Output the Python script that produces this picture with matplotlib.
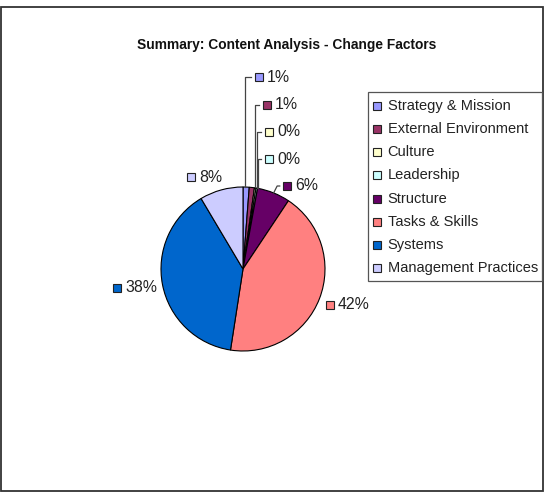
import matplotlib
matplotlib.use("Agg")
import matplotlib.pyplot as plt
from matplotlib.patches import Rectangle
import numpy as np

plt.rcParams['font.family'] = ['Liberation Sans', 'DejaVu Sans']

categories = ["Strategy & Mission", "External Environment", "Culture", "Leadership",
              "Structure", "Tasks & Skills", "Systems", "Management Practices"]
values = [1.2, 1.0, 0.3, 0.3, 6.4, 42.4, 38.4, 8.4]
pct_labels = ["1%", "1%", "0%", "0%", "6%", "42%", "38%", "8%"]
colors = ["#9999FF", "#993366", "#FFFFCC", "#CCFFFF", "#660066", "#FF8080", "#0066CC", "#CCCCFF"]
title = "Summary: Content Analysis - Change Factors"

W, H = 547, 494
fig = plt.figure(figsize=(W / 100, H / 100), dpi=100)
ax = fig.add_axes([0, 0, 1, 1])

def Y(y):  # pixel-from-top to data y
    return H - y

cx, cy, r = 243, Y(269), 82
wedges, _ = ax.pie(values, colors=colors, startangle=90, counterclock=False,
                   center=(cx, cy), radius=r, frame=True,
                   wedgeprops=dict(edgecolor='black', linewidth=0.8))
ax.set_xlim(0, W)
ax.set_ylim(0, H)
ax.set_aspect('equal')
ax.axis('off')

# outer border
ax.add_patch(Rectangle((0.8, Y(490.5)), 542.2, 483.5, fill=False, edgecolor="#333333", lw=1.3))

ax.text(287, Y(45), title, ha='center', va='center', fontsize=9.9, fontweight='bold', color='#111111')

# label positions (marker center) in pixel-from-top coords
label_pos = [(258.5, 77.5), (266.5, 105), (269, 132), (269, 159), (286.7, 186),
             (329.5, 304.5), (116.7, 288), (190.5, 177)]
leader_x = [245.3, 254.5, 257.2, 257.8, None, None, None, None]

for i, w in enumerate(wedges):
    th1, th2 = w.theta1, w.theta2
    mid = np.deg2rad((th1 + th2) / 2)
    ex, ey = cx + r * np.cos(mid), cy + r * np.sin(mid)
    mx, my = label_pos[i]
    if leader_x[i] is not None:
        lx = leader_x[i]
        ax.plot([lx, lx, mx - 8], [ey, Y(my), Y(my)], color='#444444', lw=0.9)
    elif i == 4:
        ax.plot([ex, ex + 3.5, mx - 7], [ey, Y(my), Y(my)], color='#444444', lw=0.9)
    ax.plot(mx, Y(my), marker='s', markersize=5.8, markerfacecolor=colors[i],
            markeredgecolor='#222222', markeredgewidth=0.8, linestyle='none')
    ax.text(mx + 8.5, Y(my), pct_labels[i], ha='left', va='center', fontsize=11.4, color='#222222')

# legend (drawn as a box with marker squares and labels)
ax.add_patch(Rectangle((368, Y(280.7)), 174.3, 188.4, fill=False, edgecolor='#555555', lw=0.9))
for i, (cat, c) in enumerate(zip(categories, colors)):
    yy = Y(106 + 23.15 * i)
    ax.plot(377, yy, marker='s', markersize=5.8, markerfacecolor=c,
            markeredgecolor='#222222', markeredgewidth=0.8, linestyle='none')
    ax.text(387.5, yy, cat, ha='left', va='center', fontsize=10.5, color='#222222')

fig.savefig("out.png", dpi=100)
